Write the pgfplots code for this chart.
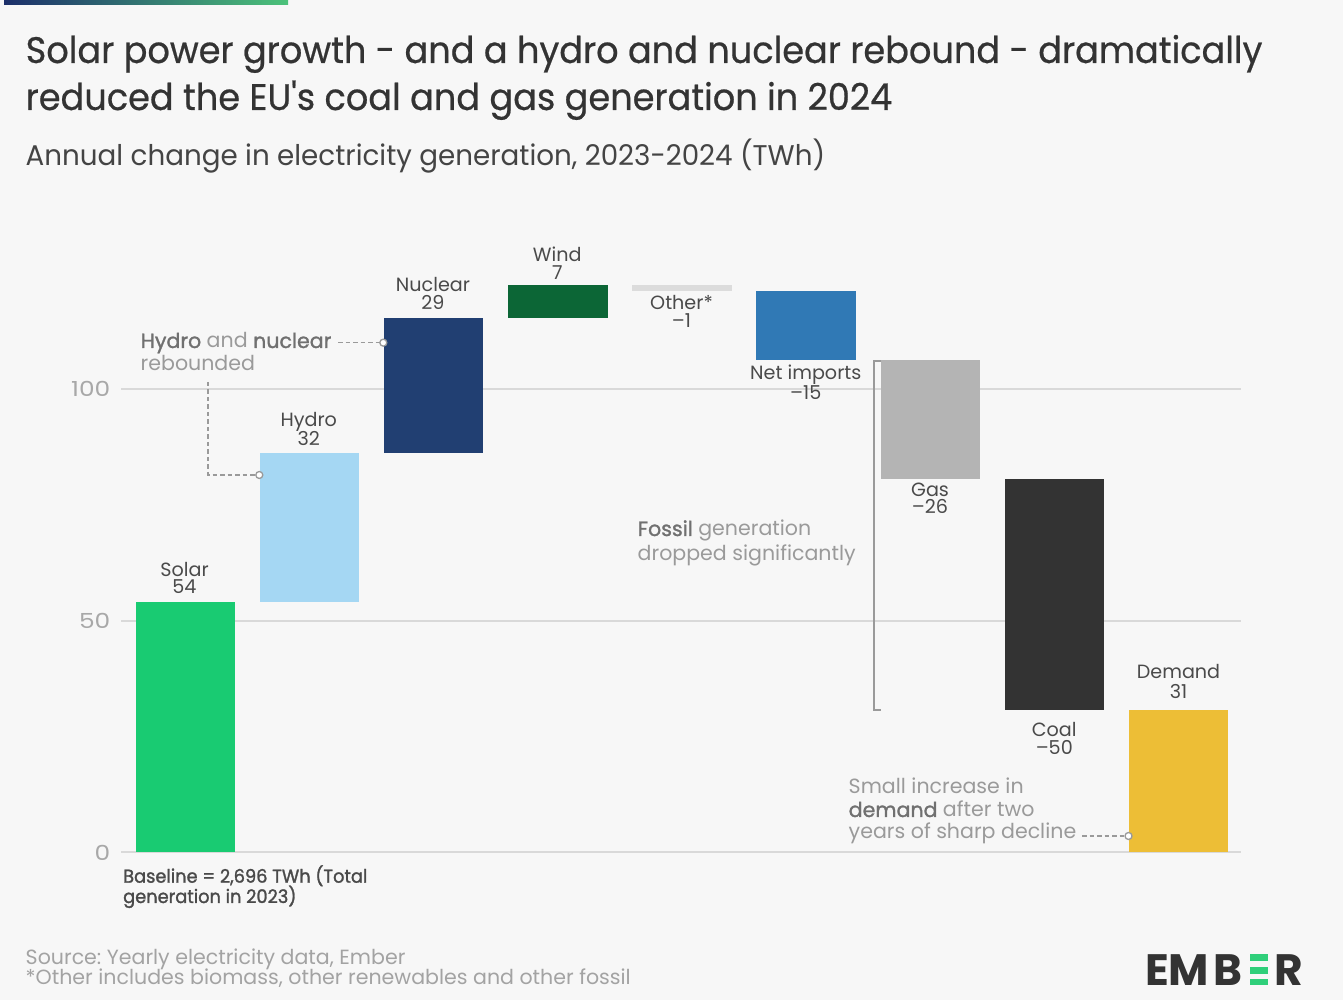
\documentclass[border=0pt]{standalone}
\usepackage{fontspec}
\setmainfont{Poppins}
\newfontfamily\titlefont[FakeBold=0.6,FakeStretch=0.952]{Poppins}
\newfontfamily\subfont[FakeStretch=0.975]{Poppins}
\newfontfamily\tickfont[FakeStretch=1.2]{Poppins}
\newfontfamily\semib[FakeBold=1.4]{Poppins}
\newfontfamily\semibn[FakeBold=1.4,FakeStretch=0.955]{Poppins}
\usepackage{pgfplots}
\pgfplotsset{compat=1.18}
\frenchspacing

\definecolor{bg}{HTML}{F7F7F7}
\definecolor{solarc}{HTML}{19CB72}
\definecolor{hydroc}{HTML}{A5D7F3}
\definecolor{nuclearc}{HTML}{213F72}
\definecolor{windc}{HTML}{0C6636}
\definecolor{otherc}{HTML}{DCDCDC}
\definecolor{netc}{HTML}{3079B5}
\definecolor{gasc}{HTML}{B4B4B4}
\definecolor{coalc}{HTML}{333333}
\definecolor{demandc}{HTML}{EDBE36}
\definecolor{gridc}{HTML}{D9D9D9}
\definecolor{tickc}{HTML}{A8A8A8}
\definecolor{labc}{HTML}{4A4A4A}
\definecolor{annc}{HTML}{9A9A9A}
\definecolor{annb}{HTML}{707070}
\definecolor{titc}{HTML}{333333}
\definecolor{subc}{HTML}{444444}
\definecolor{srcc}{HTML}{A3A3A3}
\definecolor{emb}{HTML}{333333}
\definecolor{embg}{HTML}{2FCF7A}
\definecolor{barL}{HTML}{1C2F6A}
\definecolor{barR}{HTML}{4CC27A}

\begin{document}
\begin{tikzpicture}
\fill[bg] (0,0) rectangle (134.3mm,100mm);
\begin{axis}[
  at={(12.1mm,14.75mm)}, anchor=south west,
  scale only axis, width=112.0mm, height=60.22mm,
  xmin=-0.519, xmax=8.503, ymin=0, ymax=130,
  ybar stacked, bar width=0.8,
  axis line style={draw=none}, major tick length=0pt,
  xtick=\empty, ytick={0,50,100},
  ymajorgrids, grid style={draw=gridc, line width=0.2mm},
  /pgf/number format/assume math mode=true,
  yticklabel style={font=\tickfont\fontsize{5.9}{6}\selectfont, text=tickc, inner sep=0pt, xshift=-1mm},
  clip=false,
]
% invisible base of each floating bar
\addplot[draw=none, fill=none] coordinates {(0,0) (1,54.1) (2,86.3) (3,115.4) (4,121.3) (5,106.3) (6,80.7) (7,30.7) (8,0)};
\addplot[draw=none, fill=solarc]   coordinates {(0,54.1) (1,0) (2,0) (3,0) (4,0) (5,0) (6,0) (7,0) (8,0)};
\addplot[draw=none, fill=hydroc]   coordinates {(0,0) (1,32.2) (2,0) (3,0) (4,0) (5,0) (6,0) (7,0) (8,0)};
\addplot[draw=none, fill=nuclearc] coordinates {(0,0) (1,0) (2,29.1) (3,0) (4,0) (5,0) (6,0) (7,0) (8,0)};
\addplot[draw=none, fill=windc]    coordinates {(0,0) (1,0) (2,0) (3,7.0) (4,0) (5,0) (6,0) (7,0) (8,0)};
\addplot[draw=none, fill=otherc]   coordinates {(0,0) (1,0) (2,0) (3,0) (4,1.1) (5,0) (6,0) (7,0) (8,0)};
\addplot[draw=none, fill=netc]     coordinates {(0,0) (1,0) (2,0) (3,0) (4,0) (5,15.0) (6,0) (7,0) (8,0)};
\addplot[draw=none, fill=gasc]     coordinates {(0,0) (1,0) (2,0) (3,0) (4,0) (5,0) (6,25.6) (7,0) (8,0)};
\addplot[draw=none, fill=coalc]    coordinates {(0,0) (1,0) (2,0) (3,0) (4,0) (5,0) (6,0) (7,50.0) (8,0)};
\addplot[draw=none, fill=demandc]  coordinates {(0,0) (1,0) (2,0) (3,0) (4,0) (5,0) (6,0) (7,0) (8,30.7)};
\end{axis}

\begin{scope}[x=0.1mm,y=-0.1mm,yshift=100mm]
% top accent bar
\shade[left color=barL, right color=barR] (4,0) rectangle (288,5);
% titles
\node[anchor=base west, inner sep=0, text=titc, font=\titlefont\fontsize{10.5}{12}\selectfont] at (25,63) {Solar power growth - and a hydro and nuclear rebound - dramatically};
\node[anchor=base west, inner sep=0, text=titc, font=\titlefont\fontsize{10.5}{12}\selectfont] at (25,110) {reduced the EU's coal and gas generation in 2024};
\node[anchor=base west, inner sep=0, text=subc, font=\subfont\fontsize{8.1}{10}\selectfont] at (25,166) {Annual change in electricity generation, 2023-2024 (TWh)};

% bar labels
\tikzset{bl/.style={anchor=base, inner sep=0, text=labc, font=\fontsize{5.45}{6}\selectfont}}
\node[bl] at (184.5,577) {Solar};   \node[bl] at (184.5,594) {54};
\node[bl] at (308.75,427) {Hydro};  \node[bl] at (308.75,446) {32};
\node[bl] at (433,292) {Nuclear};   \node[bl] at (433,310) {29};
\node[bl] at (557.25,262) {Wind};   \node[bl] at (557.25,280) {7};
\node[bl] at (681.5,310) {Other*};  \node[bl] at (681.5,328) {–1};
\node[bl] at (805.75,380) {Net imports}; \node[bl] at (805.75,400) {–15};
\node[bl] at (930,497) {Gas};       \node[bl] at (930,514) {–26};
\node[bl] at (1054.25,737) {Coal};  \node[bl] at (1054.25,755) {–50};
\node[bl] at (1178.5,679) {Demand}; \node[bl] at (1178.5,699) {31};

% annotations
\tikzset{an/.style={anchor=base west, inner sep=0, text=annc, font=\fontsize{5.85}{7}\selectfont},
         dl/.style={draw=annc, line width=0.13mm, dash pattern=on 0.45mm off 0.3mm},
         dot/.style={draw=annc, fill=white, line width=0.13mm}}
\node[an] at (140,348) {\textcolor{annb}{\semib Hydro} and \textcolor{annb}{\semib nuclear}};
\node[an] at (140,371) {rebounded};
\draw[dl] (338,342.7) -- (380,342.7);
\draw[dot] (383.3,342.7) circle[radius=3.5];
\draw[dl] (208,382) -- (208,475) -- (256,475);
\draw[dot] (259.3,475) circle[radius=3.5];

\node[an] at (637,536) {\textcolor{annb}{\semib Fossil} generation};
\node[an] at (637,561) {dropped significantly};
\draw[draw=annc, line width=0.13mm] (881,361) -- (874,361) -- (874,710) -- (881,710);

\node[an] at (848,794) {Small increase in};
\node[an] at (848,817) {\textcolor{annb}{\semib demand} after two};
\node[an] at (848,839) {years of sharp decline};
\draw[dl] (1082,836) -- (1125,836);
\draw[dot] (1128.5,836) circle[radius=3.5];

% baseline note
\node[anchor=base west, inner sep=0, text=labc, font=\semibn\fontsize{5.3}{6}\selectfont] at (122.5,882.7) {Baseline = 2,696 TWh (Total};
\node[anchor=base west, inner sep=0, text=labc, font=\semibn\fontsize{5.3}{6}\selectfont] at (122.5,903) {generation in 2023)};

% source
\node[anchor=base west, inner sep=0, text=srcc, font=\fontsize{5.85}{6}\selectfont] at (25,964) {Source: Yearly electricity data, Ember};
\node[anchor=base west, inner sep=0, text=srcc, font=\fontsize{5.85}{6}\selectfont] at (25,984) {*Other includes biomass, other renewables and other fossil};

% logo
\tikzset{lg/.style={anchor=base west, inner sep=0, text=emb, font=\bfseries\fontsize{12.5}{13}\selectfont}}
\node[lg] at (1145,985) {E};
\node[lg] at (1168,985) {M};
\node[lg] at (1213,985) {B};
\fill[embg] (1250,954) rectangle (1268,961);
\fill[embg] (1250,967) rectangle (1268,974);
\fill[embg] (1250,979) rectangle (1268,985);
\node[lg] at (1274,985) {R};
\end{scope}
\end{tikzpicture}
\end{document}
